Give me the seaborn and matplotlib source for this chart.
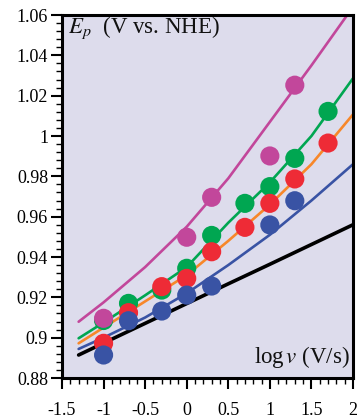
import matplotlib
matplotlib.use("Agg")
import matplotlib.pyplot as plt
import seaborn as sns
import pandas as pd
from matplotlib.ticker import MultipleLocator, FixedLocator, FixedFormatter

# ---- data ----
x_fit = [-1.3, -1.0, -0.5, 0.0, 0.5, 1.0, 1.5, 2.0]
fit_black = [0.8914, 0.8973, 0.9071, 0.9169, 0.9267, 0.9364, 0.9462, 0.9560]
fit_blue = [0.8944, 0.9000, 0.9100, 0.9220, 0.9360, 0.9510, 0.9680, 0.9860]
fit_orange = [0.8972, 0.9050, 0.9180, 0.9310, 0.9480, 0.9660, 0.9860, 1.0107]
fit_green = [0.8997, 0.9075, 0.9210, 0.9350, 0.9570, 0.9770, 1.0000, 1.0286]
fit_magenta = [0.9079, 0.9175, 0.9350, 0.9550, 0.9790, 1.0070, 1.0350, 1.0640]

green_x = [-1.0, -0.7, -0.3, 0.0, 0.3, 0.7, 1.0, 1.3, 1.7]
green_y = [0.9085, 0.9170, 0.9236, 0.9344, 0.9507, 0.9666, 0.9749, 0.9889, 1.0122]
red_x = [-1.0, -0.7, -0.3, 0.0, 0.3, 0.7, 1.0, 1.3, 1.7]
red_y = [0.8972, 0.9124, 0.9253, 0.9294, 0.9426, 0.9547, 0.9666, 0.9787, 0.9965]
blue_x = [-1.0, -0.7, -0.3, 0.0, 0.3, 1.0, 1.3]
blue_y = [0.8914, 0.9084, 0.9132, 0.9211, 0.9256, 0.9559, 0.9679]
mag_x = [-1.0, 0.0, 0.3, 1.0, 1.3]
mag_y = [0.9096, 0.9498, 0.9696, 0.9901, 1.0252]

x_ticks = [-1.5, -1.0, -0.5, 0.0, 0.5, 1.0, 1.5, 2.0]
x_tick_labels = ["-1.5", "-1", "-0.5", "0", "0.5", "1", "1.5", "2"]
y_ticks = [0.88, 0.90, 0.92, 0.94, 0.96, 0.98, 1.00, 1.02, 1.04, 1.06]
y_tick_labels = ["0.88", "0.9", "0.92", "0.94", "0.96", "0.98", "1", "1.02", "1.04", "1.06"]

# ---- style ----
sns.set_theme(style="ticks")
plt.rcParams["font.family"] = ["Liberation Serif", "DejaVu Serif"]
plt.rcParams["mathtext.fontset"] = "stix"

C_MAG = "#c2479b"
C_GREEN = "#00a651"
C_RED = "#ee2b36"
C_ORANGE = "#f7872a"
C_BLUE = "#3953a4"

W, H = 359, 418
fig = plt.figure(figsize=(W / 100, H / 100), dpi=100)
ax = fig.add_axes([62 / W, 1 - 378 / H, (353 - 62) / W, (378 - 15) / H])
ax.set_facecolor("#dddcec")

fits = [(fit_black, "black", 2.6), (fit_blue, C_BLUE, 1.9), (fit_orange, C_ORANGE, 1.9),
        (fit_green, C_GREEN, 1.9), (fit_magenta, C_MAG, 1.9)]
for ys, c, lw in fits:
    sns.lineplot(x=x_fit, y=ys, color=c, linewidth=lw, ax=ax, zorder=2,
                 estimator=None, sort=False)

dots = [(green_x, green_y, C_GREEN), (red_x, red_y, C_RED),
        (blue_x, blue_y, C_BLUE), (mag_x, mag_y, C_MAG)]
for xs, ys, c in dots:
    sns.scatterplot(x=xs, y=ys, color=c, s=190, edgecolor="none", linewidth=0,
                    ax=ax, zorder=3)

ax.set_xlim(-1.5, 2.0)
ax.set_ylim(0.88, 1.06)
ax.xaxis.set_major_locator(FixedLocator(x_ticks))
ax.xaxis.set_major_formatter(FixedFormatter(x_tick_labels))
ax.yaxis.set_major_locator(FixedLocator(y_ticks))
ax.yaxis.set_major_formatter(FixedFormatter(y_tick_labels))
ax.xaxis.set_minor_locator(MultipleLocator(0.1))
ax.yaxis.set_minor_locator(MultipleLocator(0.004))

ax.tick_params(which="major", direction="out", length=8, width=1.5, labelsize=13,
               colors="black")
ax.tick_params(which="minor", direction="out", length=4, width=1.0, colors="black")
ax.tick_params(axis="x", which="major", pad=9)
ax.tick_params(axis="y", which="major", pad=2)
ax.tick_params(top=False, right=False, which="both")

for sp in ax.spines.values():
    sp.set_visible(True)
    sp.set_linewidth(2.2)
    sp.set_color("black")

ax.set_xlabel("")
ax.set_ylabel("")

ax.text(0.02, 0.95, r"$E_p$  (V vs. NHE)", transform=ax.transAxes, fontsize=16.5,
        ha="left", va="baseline", color="#111111")
ax.text(0.99, 0.041, r"log$\,v$ (V/s)", transform=ax.transAxes, fontsize=16.5,
        ha="right", va="baseline", color="#111111")

fig.savefig("out.png", dpi=100)
